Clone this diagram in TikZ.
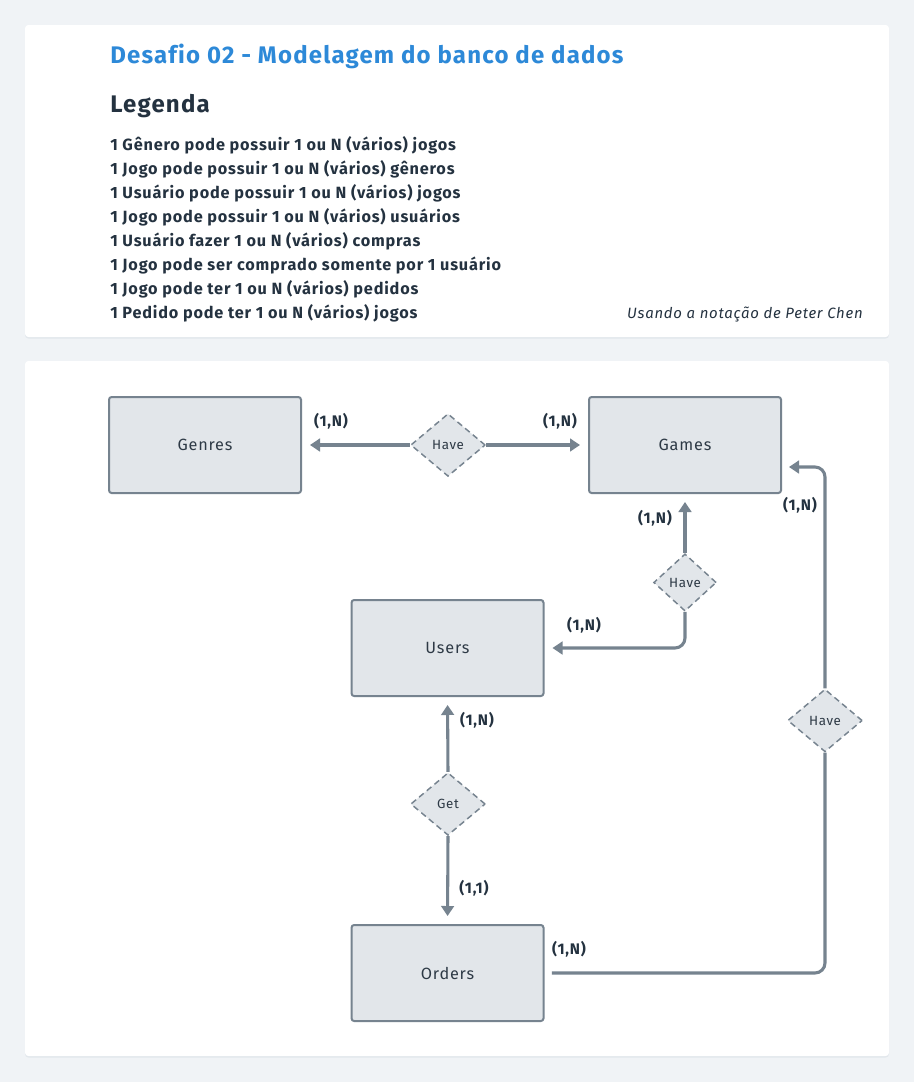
\documentclass[tikz,border=0pt]{standalone}
\usepackage{fontspec}
\setmainfont{Fira Sans}[LetterSpace=5,Ligatures=NoCommon]
\usetikzlibrary{shapes.geometric,arrows.meta}
\definecolor{pagebg}{HTML}{F0F3F6}
\definecolor{shadowc}{HTML}{E2E7EC}
\definecolor{titleblue}{HTML}{2D89D8}
\definecolor{darktxt}{HTML}{243240}
\definecolor{boxfill}{HTML}{E2E6EA}
\definecolor{boxline}{HTML}{76838F}
\definecolor{boxtxt}{HTML}{2E3A46}

\begin{document}
\begin{tikzpicture}[x=0.75pt,y=-0.75pt,
  card/.style={fill=white,rounded corners=2.5pt},
  cardshadow/.style={fill=shadowc,rounded corners=2.5pt},
  title/.style={anchor=base west,inner sep=0,text=titleblue,font=\bfseries\fontsize{18}{21}\selectfont},
  legtitle/.style={anchor=base west,inner sep=0,text=darktxt,font=\bfseries\fontsize{18}{21}\selectfont},
  legline/.style={anchor=base west,inner sep=0,text=darktxt,font=\bfseries\fontsize{12.2}{14}\selectfont},
  entity/.style={draw=boxline,line width=1.5pt,fill=boxfill,rounded corners=2pt,
    minimum width=144pt,minimum height=72pt,text=boxtxt,font=\fontsize{12.2}{14}\selectfont},
  rel/.style={diamond,draw=boxline,line width=1.1pt,dash pattern=on 4.5pt off 3pt,fill=boxfill,
    inner sep=0,minimum width=56pt,minimum height=47pt,text=boxtxt,font=\fontsize{10}{12}\selectfont},
  link/.style={draw=boxline,line width=2.3pt,rounded corners=7.5pt},
  tip/.style={-{Triangle[length=7.5pt,width=9.5pt]},shorten >=6pt},
  lbl/.style={text=darktxt,inner sep=0,font=\bfseries\fontsize{11.5}{13}\selectfont}]

% Background and cards
\fill[pagebg] (0,0) rectangle (914,1082);
\fill[cardshadow] (25,26) rectangle (889,338.5);
\fill[card] (25,25) rectangle (889,337);
\fill[cardshadow] (25,362) rectangle (889,1057.5);
\fill[card] (25,361) rectangle (889,1056);

% Header
\node[title] (title) at (110,63) {Desafio 02 - Modelagem do banco de dados};
\node[legtitle] (legenda) at (110,112) {Legenda};
\foreach \txt [count=\i from 0] in {%
  1 Gênero pode possuir 1 ou N (vários) jogos,
  1 Jogo pode possuir 1 ou N (vários) gêneros,
  1 Usuário pode possuir 1 ou N (vários) jogos,
  1 Jogo pode possuir 1 ou N (vários) usuários,
  1 Usuário fazer 1 ou N (vários) compras,
  1 Jogo pode ser comprado somente por 1 usuário,
  1 Jogo pode ter 1 ou N (vários) pedidos,
  1 Pedido pode ter 1 ou N (vários) jogos}
  \node[legline] (leg\i) at (110,150+24*\i) {\txt};
\node[anchor=base east,inner sep=0,text=darktxt,font=\itshape\fontsize{11.2}{13}\selectfont] (note) at (863,318) {Usando a notação de Peter Chen};

% Entities (fixed coordinates)
\node[entity] (genres) at (205,445) {Genres};
\node[entity] (games) at (685,445) {Games};
\node[entity] (users) at (447.5,648) {Users};
\node[entity] (orders) at (447.5,973) {Orders};

% Relationships
\node[rel] (have1) at (448,445) {Have};
\node[rel,minimum width=47pt,minimum height=43pt] (have2) at (685,582.5) {Have};
\node[rel] (get) at (448,804) {Get};
\node[rel] (have3) at (825,720.5) {Have};
\coordinate (gamesin) at (781,467);

% Connectors
\draw[link,tip] (have1.west) -- (genres.east);
\draw[link,tip] (have1.east) -- (games.west);
\draw[link,tip] (have2.north) -- (games.south);
\draw[link,tip] (have2.south) |- (users.east);
\draw[link,tip] (get.north) -- (users.south);
\draw[link,tip] (get.south) -- (orders.north);
\draw[link,shorten <=5.5pt] (orders.east) -| (have3.south);
\draw[link,tip] (have3.north) |- (gamesin);

% Cardinalities
\node[lbl] (c1) at (331,421) {(1,N)};
\node[lbl] (c2) at (560,421) {(1,N)};
\node[lbl] (c3) at (655,518) {(1,N)};
\node[lbl] (c4) at (800,505) {(1,N)};
\node[lbl] (c5) at (584,625) {(1,N)};
\node[lbl] (c6) at (477,720) {(1,N)};
\node[lbl] (c7) at (474,888) {(1,1)};
\node[lbl] (c8) at (569,949) {(1,N)};
\end{tikzpicture}
\end{document}
